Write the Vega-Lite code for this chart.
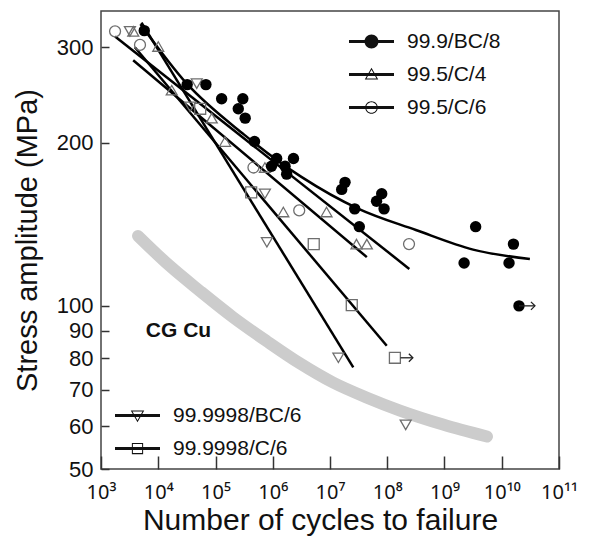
{
  "$schema": "https://vega.github.io/schema/vega-lite/v6.json",
  "width": 458,
  "height": 458,
  "autosize": {"type": "none"},
  "padding": {"left": 101, "top": 11, "right": 35, "bottom": 68},
  "background": "white",
  "config": {
    "font": "Liberation Sans",
    "view": {"stroke": "#444", "strokeWidth": 1.5},
    "axis": {
      "domain": false,
      "tickColor": "#333",
      "tickWidth": 1.5,
      "grid": false,
      "labelFont": "Liberation Sans",
      "labelFontSize": 22,
      "labelColor": "#111",
      "titleFont": "Liberation Sans",
      "titleFontSize": 29,
      "titleFontWeight": "normal",
      "titleColor": "#111"
    }
  },
  "datasets": {
    "cg": [
      {"N": 4430, "S": 134.6},
      {"N": 16000, "S": 118.4},
      {"N": 53600, "S": 106.5},
      {"N": 202000, "S": 95.3},
      {"N": 794000, "S": 86.0},
      {"N": 2990000, "S": 78.3},
      {"N": 11300000, "S": 72.2},
      {"N": 44300000, "S": 67.7},
      {"N": 167000000, "S": 64.1},
      {"N": 942000000, "S": 60.4},
      {"N": 5520000000, "S": 57.4}
    ],
    "fits": [
      {"series": "99.9/BC/8", "N": 4900, "S": 331},
      {"series": "99.9/BC/8", "N": 31600, "S": 257},
      {"series": "99.9/BC/8", "N": 316000, "S": 207},
      {"series": "99.9/BC/8", "N": 3160000, "S": 173},
      {"series": "99.9/BC/8", "N": 31600000, "S": 151},
      {"series": "99.9/BC/8", "N": 316000000, "S": 138},
      {"series": "99.9/BC/8", "N": 3160000000, "S": 127},
      {"series": "99.9/BC/8", "N": 31000000000, "S": 122},
      {"series": "99.5/C/4", "N": 3650, "S": 284},
      {"series": "99.5/C/4", "N": 44000000, "S": 123},
      {"series": "99.5/C/6", "N": 1760, "S": 314},
      {"series": "99.5/C/6", "N": 243000000, "S": 117},
      {"series": "99.9998/BC/6", "N": 5100, "S": 333},
      {"series": "99.9998/BC/6", "N": 25500000, "S": 77},
      {"series": "99.9998/C/6", "N": 3900, "S": 300},
      {"series": "99.9998/C/6", "N": 98000000, "S": 84.4}
    ],
    "filled": [
      {"N": 5700, "S": 322},
      {"N": 32000, "S": 256},
      {"N": 68000, "S": 256},
      {"N": 128000, "S": 241},
      {"N": 300000, "S": 241},
      {"N": 250000, "S": 231},
      {"N": 330000, "S": 222},
      {"N": 480000, "S": 201},
      {"N": 950000, "S": 181},
      {"N": 1170000, "S": 187},
      {"N": 1640000, "S": 181},
      {"N": 1750000, "S": 175},
      {"N": 2300000, "S": 187},
      {"N": 18300000, "S": 169},
      {"N": 16000000, "S": 164},
      {"N": 27000000, "S": 151},
      {"N": 32500000, "S": 140},
      {"N": 65000000, "S": 156},
      {"N": 80000000, "S": 161},
      {"N": 88000000, "S": 151},
      {"N": 2200000000, "S": 120},
      {"N": 3500000000, "S": 140},
      {"N": 13400000000, "S": 120},
      {"N": 16000000000, "S": 130},
      {"N": 20000000000, "S": 100}
    ],
    "open": [
      {"series": "99.5/C/4", "N": 3660, "S": 321},
      {"series": "99.5/C/4", "N": 10000, "S": 301},
      {"series": "99.5/C/4", "N": 17200, "S": 250},
      {"series": "99.5/C/4", "N": 86000, "S": 222},
      {"series": "99.5/C/4", "N": 147000, "S": 201},
      {"series": "99.5/C/4", "N": 730000, "S": 180},
      {"series": "99.5/C/4", "N": 1530000, "S": 149},
      {"series": "99.5/C/4", "N": 8700000, "S": 149},
      {"series": "99.5/C/4", "N": 29000000, "S": 130},
      {"series": "99.5/C/4", "N": 44000000, "S": 130},
      {"series": "99.5/C/6", "N": 1760, "S": 321},
      {"series": "99.5/C/6", "N": 4800, "S": 303},
      {"series": "99.5/C/6", "N": 460000, "S": 180},
      {"series": "99.5/C/6", "N": 2900000, "S": 150},
      {"series": "99.5/C/6", "N": 240000000, "S": 130},
      {"series": "99.9998/BC/6", "N": 3200, "S": 321},
      {"series": "99.9998/BC/6", "N": 47000, "S": 257},
      {"series": "99.9998/BC/6", "N": 36000, "S": 233},
      {"series": "99.9998/BC/6", "N": 730000, "S": 161},
      {"series": "99.9998/BC/6", "N": 790000, "S": 131},
      {"series": "99.9998/BC/6", "N": 14000000, "S": 80.2},
      {"series": "99.9998/BC/6", "N": 210000000, "S": 60.3},
      {"series": "99.9998/C/6", "N": 54000, "S": 231},
      {"series": "99.9998/C/6", "N": 420000, "S": 162},
      {"series": "99.9998/C/6", "N": 5200000, "S": 130},
      {"series": "99.9998/C/6", "N": 24000000, "S": 100.3},
      {"series": "99.9998/C/6", "N": 136000000, "S": 80.2}
    ],
    "runouts": [
      {"N": 20000000000, "N2": 38000000000, "S": 100},
      {"N": 170000000, "N2": 280000000, "S": 80.2}
    ],
    "legendTop": [
      {"series": "99.9/BC/8"},
      {"series": "99.5/C/4"},
      {"series": "99.5/C/6"}
    ],
    "legendBottom": [
      {"series": "99.9998/BC/6"},
      {"series": "99.9998/C/6"}
    ],
    "note": [{"N": 22600, "S": 89.9, "label": "CG Cu"}]
  },
  "layer": [
    {
      "data": {"name": "cg"},
      "mark": {"type": "line", "color": "#cccccc", "strokeWidth": 12, "strokeCap": "round", "interpolate": "monotone"},
      "encoding": {
        "x": {
          "field": "N", "type": "quantitative",
          "scale": {"type": "log", "domain": [1000, 100000000000], "nice": false},
          "axis": {
            "title": "Number of cycles to failure",
            "titleX": 219,
            "titleFontSize": 30,
            "values": [1000, 10000, 100000, 1000000, 10000000, 100000000, 1000000000, 10000000000, 100000000000],
            "labelExpr": "['10³','10⁴','10⁵','10⁶','10⁷','10⁸','10⁹','10¹⁰','10¹¹'][round(log(datum.value)/LN10)-3]",
            "labelFont": "Noto Sans",
            "labelFontSize": 20,
            "offset": -13,
            "tickSize": 13,
            "labelPadding": 13,
            "titlePadding": 3,
            "labelFlush": false
          }
        },
        "y": {
          "field": "S", "type": "quantitative",
          "scale": {"type": "log", "domain": [50, 350], "nice": false},
          "axis": {
            "title": "Stress amplitude (MPa)",
            "values": [50, 60, 70, 80, 90, 100, 200, 300],
            "offset": -8,
            "tickSize": 8,
            "labelPadding": 8,
            "titlePadding": 14,
            "labelFlush": false
          }
        }
      }
    },
    {
      "data": {"name": "fits"},
      "mark": {"type": "line", "color": "black", "strokeWidth": 2.5, "interpolate": "monotone"},
      "encoding": {
        "x": {"field": "N", "type": "quantitative"},
        "y": {"field": "S", "type": "quantitative"},
        "detail": {"field": "series"}
      }
    },
    {
      "data": {"name": "open"},
      "mark": {"type": "point", "filled": false, "color": "#6e6e6e", "strokeWidth": 1.3, "size": 120, "opacity": 1},
      "encoding": {
        "x": {"field": "N", "type": "quantitative"},
        "y": {"field": "S", "type": "quantitative"},
        "shape": {
          "field": "series", "type": "nominal",
          "scale": {"domain": ["99.5/C/4", "99.5/C/6", "99.9998/BC/6", "99.9998/C/6"], "range": ["triangle-up", "circle", "triangle-down", "square"]},
          "legend": null
        }
      }
    },
    {
      "data": {"name": "filled"},
      "mark": {"type": "point", "filled": true, "shape": "circle", "color": "black", "size": 130, "opacity": 1},
      "encoding": {
        "x": {"field": "N", "type": "quantitative"},
        "y": {"field": "S", "type": "quantitative"}
      }
    },
    {
      "data": {"name": "runouts"},
      "mark": {"type": "rule", "color": "#222", "strokeWidth": 1.3},
      "encoding": {
        "x": {"field": "N", "type": "quantitative"},
        "x2": {"field": "N2"},
        "y": {"field": "S", "type": "quantitative"}
      }
    },
    {
      "data": {"name": "runouts"},
      "mark": {"type": "point", "shape": "M-1,-1L0,0L-1,1", "filled": false, "color": "#222", "strokeWidth": 1.3, "size": 64, "opacity": 1},
      "encoding": {
        "x": {"field": "N2", "type": "quantitative"},
        "y": {"field": "S", "type": "quantitative"}
      }
    },
    {
      "data": {"name": "note"},
      "mark": {"type": "text", "font": "Liberation Sans", "fontWeight": "bold", "fontSize": 21, "color": "#111"},
      "encoding": {
        "x": {"field": "N", "type": "quantitative"},
        "y": {"field": "S", "type": "quantitative"},
        "text": {"field": "label"}
      }
    },
    {
      "data": {"name": "legendTop"},
      "mark": {"type": "point", "filled": true, "color": "#111", "opacity": 0},
      "encoding": {
        "shape": {
          "field": "series", "type": "nominal",
          "scale": {
            "domain": ["99.9/BC/8", "99.5/C/4", "99.5/C/6"],
            "range": [
              "M-1,-0.065H1V0.065H-1ZM0.31,0A0.31,0.31,0,1,1,-0.31,0A0.31,0.31,0,1,1,0.31,0Z",
              "M-1,-0.065H1V0.065H-1ZM0,-0.3L0.3,0.22L-0.3,0.22ZM0,-0.21L-0.222,0.175L0.222,0.175Z",
              "M-1,-0.065H1V0.065H-1ZM0.28,0A0.28,0.28,0,1,1,-0.28,0A0.28,0.28,0,1,1,0.28,0ZM0.235,0A0.235,0.235,0,1,0,-0.235,0A0.235,0.235,0,1,0,0.235,0Z"
            ]
          },
          "legend": {
            "orient": "none", "legendX": 248, "legendY": 8, "title": null, "padding": 0,
            "symbolSize": 2025, "symbolFillColor": "#111", "symbolStrokeWidth": 0, "symbolOpacity": 1,
            "labelFont": "Liberation Sans", "labelFontSize": 21, "labelColor": "#111", "labelOffset": 13,
            "rowPadding": -17,
            "encode": {"symbols": {"update": {"fill": {"value": "#111"}, "opacity": {"value": 1}, "strokeWidth": {"value": 0}}}}
          }
        }
      }
    },
    {
      "data": {"name": "legendBottom"},
      "mark": {"type": "point", "filled": true, "color": "#111", "opacity": 0},
      "encoding": {
        "shape": {
          "field": "series", "type": "nominal",
          "scale": {
            "domain": ["99.9998/BC/6", "99.9998/C/6"],
            "range": [
              "M-1,-0.065H1V0.065H-1ZM0,0.3L-0.3,-0.22L0.3,-0.22ZM0,0.21L0.222,-0.175L-0.222,-0.175Z",
              "M-1,-0.065H1V0.065H-1ZM-0.25,-0.25H0.25V0.25H-0.25ZM-0.205,-0.205V0.205H0.205V-0.205Z"
            ]
          },
          "legend": {
            "orient": "none", "legendX": 14, "legendY": 382, "title": null, "padding": 0,
            "symbolSize": 2025, "symbolFillColor": "#111", "symbolStrokeWidth": 0, "symbolOpacity": 1,
            "labelFont": "Liberation Sans", "labelFontSize": 21, "labelColor": "#111", "labelOffset": 13,
            "rowPadding": -13,
            "encode": {"symbols": {"update": {"fill": {"value": "#111"}, "opacity": {"value": 1}, "strokeWidth": {"value": 0}}}}
          }
        }
      }
    }
  ],
  "resolve": {"scale": {"shape": "independent"}}
}
